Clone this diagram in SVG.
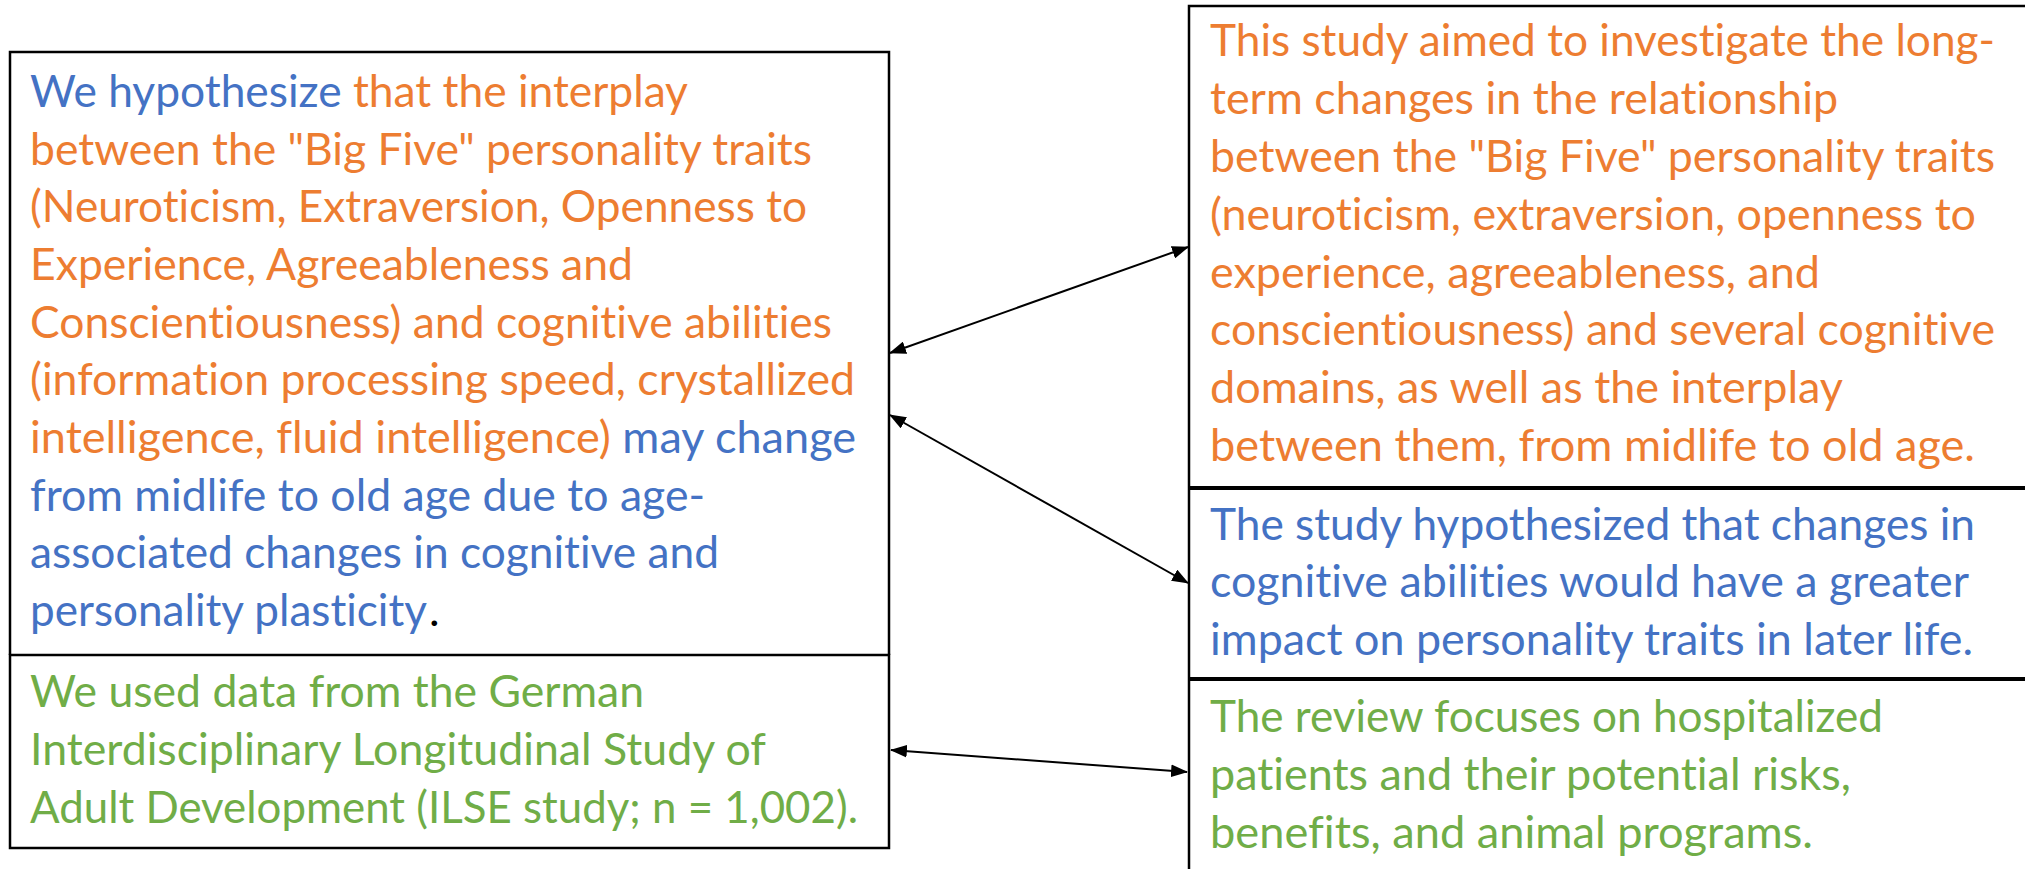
<svg xmlns="http://www.w3.org/2000/svg" width="2025" height="869" viewBox="0 0 2025 869">
<style>
text{font-family:Lato,"Open Sans","Liberation Sans",sans-serif;font-size:45px;font-variant-ligatures:none;font-feature-settings:"liga" 0,"clig" 0;}
.o{fill:#ED7D31}.b{fill:#4472C4}.g{fill:#70AD47}.k{fill:#000}
.box{fill:none;stroke:#000;stroke-width:2.5}
.div{stroke:#000;stroke-width:4}
.conn{stroke:#000;stroke-width:2;fill:none;marker-start:url(#ah);marker-end:url(#ah)}
</style>
<defs>
<marker id="ah" viewBox="0 0 16 12" refX="15" refY="6" markerWidth="17" markerHeight="13" markerUnits="userSpaceOnUse" orient="auto-start-reverse">
<path d="M0,0 L16,6 L0,12 z" fill="#000"/>
</marker>
</defs>
<rect width="2025" height="869" fill="#fff"/>
<g id="left-hypothesis">
<path class="box" d="M10,655 L10,52 L889,52 L889,655"/>
<text x="30" y="107" textLength="658" lengthAdjust="spacingAndGlyphs"><tspan class="b">We hypothesize </tspan><tspan class="o">that the interplay</tspan></text>
<text class="o" x="30" y="165" textLength="782" lengthAdjust="spacingAndGlyphs">between the "Big Five" personality traits</text>
<text class="o" x="30" y="222" textLength="777" lengthAdjust="spacingAndGlyphs">(Neuroticism, Extraversion, Openness to</text>
<text class="o" x="30" y="280" textLength="603" lengthAdjust="spacingAndGlyphs">Experience, Agreeableness and</text>
<text class="o" x="30" y="338" textLength="802" lengthAdjust="spacingAndGlyphs">Conscientiousness) and cognitive abilities</text>
<text class="o" x="30" y="395" textLength="825" lengthAdjust="spacingAndGlyphs">(information processing speed, crystallized</text>
<text x="30" y="453" textLength="826" lengthAdjust="spacingAndGlyphs"><tspan class="o">intelligence, fluid intelligence) </tspan><tspan class="b">may change</tspan></text>
<text class="b" x="30" y="511" textLength="675" lengthAdjust="spacingAndGlyphs">from midlife to old age due to age-</text>
<text class="b" x="30" y="568" textLength="689" lengthAdjust="spacingAndGlyphs">associated changes in cognitive and</text>
<text class="b" x="30" y="626" textLength="397" lengthAdjust="spacingAndGlyphs">personality plasticity</text>
<text class="k" x="429" y="626">.</text>
</g>
<g id="left-data">
<path class="box" d="M10,655 L889,655 L889,848 L10,848 Z"/>
<text class="g" x="30" y="707" textLength="614" lengthAdjust="spacingAndGlyphs">We used data from the German</text>
<text class="g" x="30" y="765" textLength="736" lengthAdjust="spacingAndGlyphs">Interdisciplinary Longitudinal Study of</text>
<text class="g" x="30" y="823" textLength="828" lengthAdjust="spacingAndGlyphs">Adult Development (ILSE study; n = 1,002).</text>
</g>
<g id="right-aim">
<path class="box" d="M1189,488 L1189,6 L2025,6"/>
<text class="o" x="1210" y="56" textLength="785" lengthAdjust="spacingAndGlyphs">This study aimed to investigate the long-</text>
<text class="o" x="1210" y="114" textLength="628" lengthAdjust="spacingAndGlyphs">term changes in the relationship</text>
<text class="o" x="1210" y="172" textLength="785" lengthAdjust="spacingAndGlyphs">between the "Big Five" personality traits</text>
<text class="o" x="1210" y="230" textLength="766" lengthAdjust="spacingAndGlyphs">(neuroticism, extraversion, openness to</text>
<text class="o" x="1210" y="288" textLength="610" lengthAdjust="spacingAndGlyphs">experience, agreeableness, and</text>
<text class="o" x="1210" y="345" textLength="785" lengthAdjust="spacingAndGlyphs">conscientiousness) and several cognitive</text>
<text class="o" x="1210" y="403" textLength="633" lengthAdjust="spacingAndGlyphs">domains, as well as the interplay</text>
<text class="o" x="1210" y="461" textLength="765" lengthAdjust="spacingAndGlyphs">between them, from midlife to old age.</text>
</g>
<g id="right-hypothesized">
<path class="box" d="M1189,488 L1189,679"/>
<line class="div" x1="1189" y1="488" x2="2025" y2="488"/>
<text class="b" x="1210" y="540" textLength="765" lengthAdjust="spacingAndGlyphs">The study hypothesized that changes in</text>
<text class="b" x="1210" y="597" textLength="759" lengthAdjust="spacingAndGlyphs">cognitive abilities would have a greater</text>
<text class="b" x="1210" y="655" textLength="763" lengthAdjust="spacingAndGlyphs">impact on personality traits in later life.</text>
</g>
<g id="right-review">
<path class="box" d="M1189,679 L1189,869"/>
<line class="div" x1="1189" y1="679" x2="2025" y2="679"/>
<text class="g" x="1210" y="732" textLength="673" lengthAdjust="spacingAndGlyphs">The review focuses on hospitalized</text>
<text class="g" x="1210" y="790" textLength="641" lengthAdjust="spacingAndGlyphs">patients and their potential risks,</text>
<text class="g" x="1210" y="848" textLength="603" lengthAdjust="spacingAndGlyphs">benefits, and animal programs.</text>
</g>
<g id="connectors">
<line class="conn" x1="890" y1="353" x2="1188" y2="247"/>
<line class="conn" x1="890" y1="415" x2="1188" y2="583"/>
<line class="conn" x1="891" y1="750" x2="1187" y2="772"/>
</g>
</svg>
